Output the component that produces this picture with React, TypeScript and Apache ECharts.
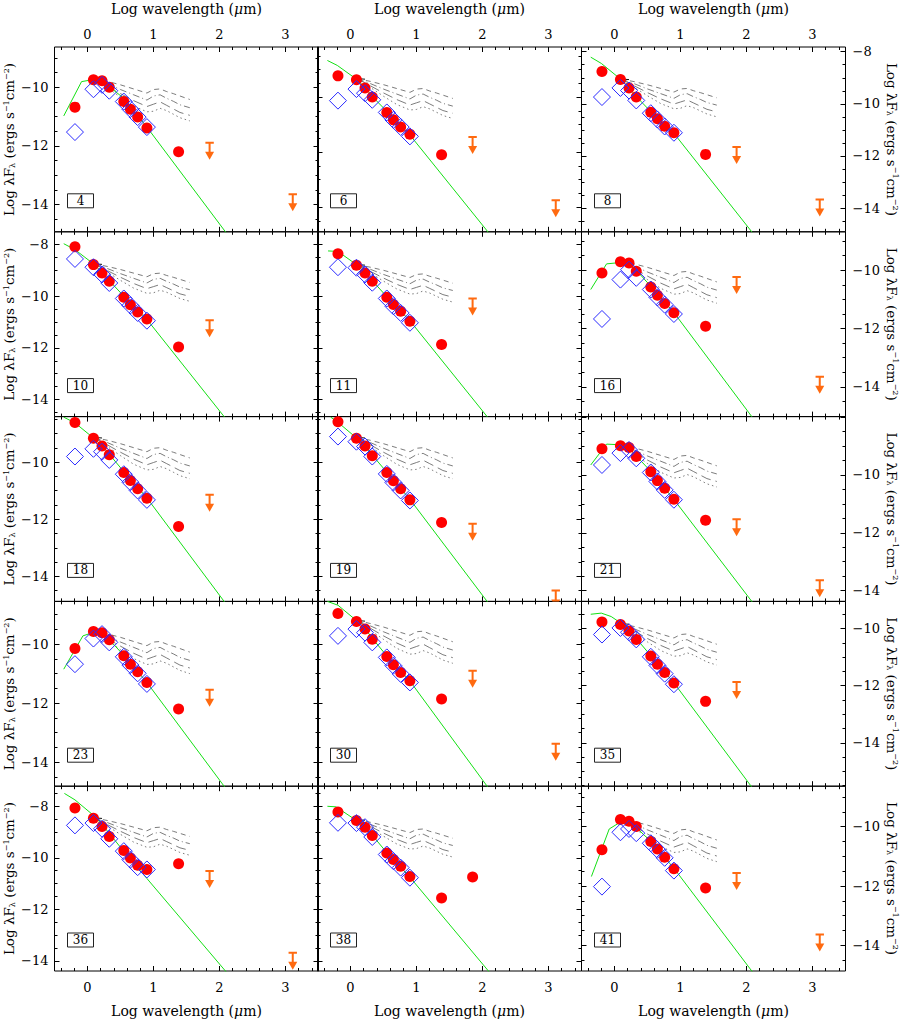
import React, { useEffect, useRef } from 'react';
import * as echarts from 'echarts';

// ---------------- data ----------------
const panelIds = ['4', '6', '8', '10', '11', '16', '18', '19', '21', '23', '30', '35', '36', '38', '41'];

// y-axis ranges (log lambda F_lambda) of each panel
const yMin = [-14.93, -14.9, -14.91, -14.66, -14.66, -15.02, -14.88, -14.88, -14.37, -14.82, -14.82, -15.52, -14.39, -14.39, -14.86];
const yMax = [-8.63, -8.18, -7.82, -7.51, -7.51, -8.68, -8.4, -8.4, -7.99, -8.55, -8.55, -9.05, -7.22, -7.22, -8.64];

// log wavelengths (micron)
const photWl = [-0.19, 0.09, 0.22, 0.33, 0.55, 0.65, 0.76, 0.9, 1.38];
const diamondWl = [-0.19, 0.09, 0.22, 0.33, 0.55, 0.65, 0.76, 0.9];
const limitWl = [1.85, 3.11];
const mips70Wl = 1.85;

// observed fluxes (red filled circles)
const redFlux = [
  [-10.68, -9.75, -9.78, -10.0, -10.49, -10.75, -11.02, -11.39, -12.2],
  [-9.23, -9.37, -9.67, -10.0, -10.56, -10.83, -11.09, -11.35, -12.1],
  [-8.76, -9.07, -9.39, -9.74, -10.32, -10.57, -10.86, -11.11, -11.94],
  [-8.09, -8.78, -9.1, -9.42, -10.04, -10.33, -10.61, -10.88, -11.97],
  [-8.36, -8.8, -9.1, -9.42, -10.04, -10.32, -10.58, -10.97, -11.87],
  [-10.09, -9.71, -9.75, -10.03, -10.57, -10.86, -11.14, -11.46, -11.92],
  [-8.61, -9.16, -9.43, -9.74, -10.36, -10.64, -10.93, -11.26, -12.25],
  [-8.58, -9.16, -9.43, -9.77, -10.36, -10.65, -10.93, -11.32, -12.11],
  [-9.1, -9.0, -9.06, -9.37, -9.89, -10.2, -10.46, -10.84, -11.57],
  [-10.15, -9.57, -9.61, -9.85, -10.39, -10.68, -10.94, -11.3, -12.2],
  [-8.96, -9.23, -9.49, -9.83, -10.42, -10.7, -10.96, -11.24, -11.86],
  [-9.77, -9.86, -10.09, -10.38, -10.96, -11.25, -11.54, -11.91, -12.55],
  [-8.07, -8.46, -8.78, -9.17, -9.71, -10.01, -10.29, -10.45, -10.23],
  [-8.22, -8.55, -8.81, -9.13, -9.81, -10.06, -10.33, -10.72, -11.56],
  [-10.78, -9.76, -9.82, -10.0, -10.5, -10.75, -11.03, -11.42, -12.07],
];

// 70 micron detection (only source 38)
const mips70Flux = [null, null, null, null, null, null, null, null, null, null, null, null, null, -10.74, null];

// blue open diamonds
const diamondFlux = [
  [-11.53, -10.07, -9.92, -10.12, -10.49, -10.75, -11.02, -11.36],
  [-10.13, -9.71, -9.86, -10.1, -10.56, -10.83, -11.09, -11.43],
  [-9.74, -9.39, -9.49, -9.87, -10.36, -10.6, -10.87, -11.11],
  [-8.56, -8.88, -9.16, -9.49, -10.09, -10.36, -10.65, -10.95],
  [-8.88, -8.9, -9.16, -9.48, -10.09, -10.39, -10.65, -11.03],
  [-11.67, -10.32, -9.98, -10.26, -10.66, -10.93, -11.18, -11.5],
  [-9.8, -9.53, -9.63, -9.92, -10.42, -10.7, -10.99, -11.32],
  [-9.1, -9.28, -9.45, -9.8, -10.41, -10.71, -10.99, -11.34],
  [-9.66, -9.25, -9.14, -9.43, -9.92, -10.23, -10.52, -10.86],
  [-10.68, -9.81, -9.66, -9.94, -10.43, -10.71, -10.99, -11.35],
  [-9.72, -9.49, -9.61, -9.94, -10.45, -10.73, -11.01, -11.3],
  [-10.21, -9.98, -10.13, -10.38, -10.99, -11.29, -11.58, -11.95],
  [-8.74, -8.65, -8.87, -9.26, -9.74, -10.07, -10.36, -10.45],
  [-8.64, -8.65, -8.81, -9.19, -9.87, -10.13, -10.38, -10.77],
  [-12.02, -10.19, -10.08, -10.22, -10.56, -10.78, -11.05, -11.48],
];

// orange upper limits at 70 um and 1.3 mm
const limitFlux = [
  [-11.89, -13.65],
  [-11.45, -13.75],
  [-11.66, -13.67],
  [-10.93, null],
  [-10.09, null],
  [-10.23, -13.65],
  [-11.14, null],
  [-12.16, -14.5],
  [-11.53, -13.64],
  [-11.55, null],
  [-10.9, -13.38],
  [-11.87, null],
  [-10.51, -13.68],
  [null, null],
  [-11.56, -13.63],
];

// green photosphere model
const greenModel = [
  [[-0.36, -10.98], [-0.09, -9.81], [0.09, -9.74], [0.22, -9.8], [0.33, -9.98], [0.55, -10.38], [0.9, -11.36], [2.3, -15.56]],
  [[-0.35, -8.67], [-0.2, -8.85], [0.09, -9.35], [0.22, -9.65], [0.33, -9.98], [0.55, -10.52], [0.9, -11.38], [2.3, -15.55]],
  [[-0.36, -8.21], [-0.2, -8.45], [0.09, -9.05], [0.22, -9.38], [0.33, -9.72], [0.55, -10.3], [0.9, -11.13], [2.08, -14.91], [2.3, -15.61]],
  [[-0.36, -7.97], [-0.19, -8.2], [0.09, -8.75], [0.22, -9.08], [0.33, -9.4], [0.55, -10.0], [0.9, -10.9], [2.07, -14.66], [2.3, -15.4]],
  [[-0.34, -8.25], [-0.19, -8.27], [0.09, -8.78], [0.22, -9.08], [0.33, -9.4], [0.55, -10.02], [0.9, -10.95], [2.07, -14.66], [2.3, -15.4]],
  [[-0.36, -10.66], [-0.12, -9.78], [0.06, -9.74], [0.22, -9.8], [0.33, -10.0], [0.55, -10.55], [0.9, -11.45], [2.08, -15.02], [2.3, -15.7]],
  [[-0.36, -8.42], [-0.19, -8.62], [0.09, -9.15], [0.22, -9.42], [0.33, -9.72], [0.55, -10.33], [0.9, -11.25], [2.07, -14.88], [2.3, -15.6]],
  [[-0.3, -8.42], [-0.19, -8.6], [0.09, -9.15], [0.22, -9.42], [0.33, -9.75], [0.55, -10.35], [0.9, -11.3], [2.07, -14.88], [2.3, -15.6]],
  [[-0.36, -9.66], [-0.12, -8.94], [0.06, -8.96], [0.22, -9.05], [0.33, -9.35], [0.55, -9.88], [0.9, -10.85], [2.08, -14.37], [2.3, -15.05]],
  [[-0.36, -10.85], [-0.07, -9.72], [0.09, -9.6], [0.22, -9.64], [0.33, -9.85], [0.55, -10.38], [0.9, -11.3], [2.07, -14.82], [2.3, -15.5]],
  [[-0.35, -8.55], [-0.19, -8.68], [0.09, -9.2], [0.22, -9.47], [0.33, -9.8], [0.55, -10.4], [0.9, -11.25], [2.07, -14.82], [2.3, -15.5]],
  [[-0.36, -9.5], [-0.2, -9.46], [-0.05, -9.58], [0.09, -9.8], [0.22, -10.05], [0.33, -10.35], [0.55, -10.95], [0.9, -11.9], [2.07, -15.52], [2.3, -16.2]],
  [[-0.35, -7.5], [-0.19, -7.75], [0.09, -8.35], [0.22, -8.7], [0.33, -9.05], [0.55, -9.75], [0.9, -10.8], [2.09, -14.39], [2.3, -15.05]],
  [[-0.35, -8.0], [-0.22, -8.02], [0.09, -8.55], [0.22, -8.8], [0.33, -9.12], [0.55, -9.8], [0.9, -10.75], [2.09, -14.39], [2.3, -15.05]],
  [[-0.35, -11.68], [-0.08, -10.08], [0.08, -9.86], [0.22, -9.88], [0.33, -10.03], [0.55, -10.5], [0.9, -11.4], [2.08, -14.86], [2.3, -15.5]],
];

// black disk-model fan: common shape (offsets from J-band anchor), one anchor per source
const fanWl = [0.1, 0.3, 0.5, 0.7, 0.9, 1.0, 1.1, 1.2, 1.3, 1.4, 1.55];
const fanShapes = [
  [0, -0.1, -0.22, -0.36, -0.5, -0.38, -0.36, -0.45, -0.52, -0.6, -0.72],
  [0, -0.18, -0.38, -0.56, -0.74, -0.6, -0.56, -0.68, -0.78, -0.9, -1.0],
  [0, -0.26, -0.52, -0.76, -0.96, -0.88, -0.8, -0.92, -1.04, -1.16, -1.26],
  [0, -0.32, -0.64, -0.94, -1.14, -1.12, -1.02, -1.1, -1.22, -1.34, -1.45],
];
const fanAnchor = [-9.7, -9.33, -9.05, -8.75, -8.78, -9.68, -9.13, -9.13, -8.97, -9.55, -9.2, -9.83, -8.45, -8.52, -9.73];

// tick values
const xMajorTicks = [0, 1, 2, 3];
const xMinorTicks = [-0.4, -0.2, 0.2, 0.4, 0.6, 0.8, 1.2, 1.4, 1.6, 1.8, 2.2, 2.4, 2.6, 2.8, 3.2, 3.4];
const yMajorTicks = [-16, -14, -12, -10, -8, -6];
const yMinorTicks = [-15.5, -15, -14.5, -13.5, -13, -12.5, -11.5, -11, -10.5, -9.5, -9, -8.5, -7.5, -7, -6.5];

// ---------------- layout / style ----------------
const COL_LEFT = [54.5, 317.5, 581.5];
const PANEL_W = 264;
const ROW_TOP = 47;
const PANEL_H = 184.8;
const FONT = "'DejaVu Serif', 'Liberation Serif', serif";
const RED = '#ff0000';
const BLUE = '#2a2aff';
const GREEN = '#14e014';
const ORANGE = '#ff6a10';
const FAN_COLOR = '#5a5a5a';
const FAN_DASH: any[] = [[5, 4], [7, 3, 1, 3], [10, 5], [1.5, 3]];

const fmtNum = (v: number) => (v < 0 ? '\u2212' + Math.abs(v) : String(v));

function buildOption() {
  const grids: any[] = [];
  const xAxes: any[] = [];
  const yAxes: any[] = [];
  const series: any[] = [];
  const graphics: any[] = [];

  panelIds.forEach((pid, i) => {
    const r = Math.floor(i / 3);
    const c = i % 3;
    const left = COL_LEFT[c];
    const top = ROW_TOP + r * PANEL_H;
    grids.push({
      left, top, width: PANEL_W, height: PANEL_H,
      show: true, borderColor: '#000', borderWidth: 1, backgroundColor: 'transparent',
      containLabel: false, outerBoundsMode: 'none',
    });

    const mkX = (pos: string, ticks: number[], len: number, showLabel: boolean, margin: number) => ({
      type: 'value', gridIndex: i, position: pos, min: -0.5, max: 3.5,
      axisLine: { show: false, onZero: false },
      axisTick: { show: true, inside: true, length: len, customValues: ticks, lineStyle: { color: '#000', width: 1 } },
      axisLabel: { show: showLabel, customValues: xMajorTicks, margin, fontSize: 13, fontFamily: FONT, color: '#000', formatter: fmtNum },
      splitLine: { show: false }, minorTick: { show: false },
    });
    xAxes.push(mkX('bottom', xMajorTicks, 5, r === 4, 10));
    xAxes.push(mkX('bottom', xMinorTicks, 3, false, 10));
    xAxes.push(mkX('top', xMajorTicks, 5, r === 0, 6));
    xAxes.push(mkX('top', xMinorTicks, 3, false, 6));

    const lo = yMin[i];
    const hi = yMax[i];
    const majIn = yMajorTicks.filter((v) => v >= lo && v <= hi);
    const minIn = yMinorTicks.filter((v) => v >= lo && v <= hi);
    const labIn = yMajorTicks.filter((v) => v > lo + 0.05 && v < hi - 0.05);
    const mkY = (pos: string, ticks: number[], len: number, showLabel: boolean, margin: number) => ({
      type: 'value', gridIndex: i, position: pos, min: lo, max: hi,
      axisLine: { show: false, onZero: false },
      axisTick: { show: true, inside: true, length: len, customValues: ticks, lineStyle: { color: '#000', width: 1 } },
      axisLabel: { show: showLabel, customValues: labIn, margin, fontSize: 13, fontFamily: FONT, color: '#000', formatter: fmtNum },
      splitLine: { show: false }, minorTick: { show: false },
    });
    yAxes.push(mkY('left', majIn, 5, c === 0, 6));
    yAxes.push(mkY('left', minIn, 3, false, 6));
    yAxes.push(mkY('right', majIn, 5, c === 2, 7));
    yAxes.push(mkY('right', minIn, 3, false, 7));

    const xi = 4 * i;
    const yi = 4 * i;

    // disk-model fan
    fanShapes.forEach((shape, k) => {
      series.push({
        type: 'line', xAxisIndex: xi, yAxisIndex: yi, silent: true, showSymbol: false, clip: true, z: 2,
        data: fanWl.map((w, j) => [w, fanAnchor[i] + shape[j]]),
        lineStyle: { color: FAN_COLOR, width: 0.8, type: FAN_DASH[k] },
      });
    });
    // short solid start of the fan at J
    series.push({
      type: 'line', xAxisIndex: xi, yAxisIndex: yi, silent: true, showSymbol: false, clip: true, z: 2,
      data: [[fanWl[0], fanAnchor[i]], [fanWl[0] + 0.12, fanAnchor[i] - 0.02]],
      lineStyle: { color: '#111', width: 1 },
    });

    // photosphere
    series.push({
      type: 'line', xAxisIndex: xi, yAxisIndex: yi, silent: true, showSymbol: false, clip: true, z: 3,
      data: greenModel[i],
      lineStyle: { color: GREEN, width: 1 },
    });

    // red observed points
    const reds: any[] = photWl.map((w, j) => [w, redFlux[i][j]]);
    if (mips70Flux[i] !== null) reds.push([mips70Wl, mips70Flux[i]]);
    series.push({
      type: 'scatter', xAxisIndex: xi, yAxisIndex: yi, silent: true, z: 4,
      symbol: 'circle', symbolSize: 11,
      itemStyle: { color: RED, borderWidth: 0, opacity: 1 },
      data: reds,
    });

    // blue diamonds
    series.push({
      type: 'scatter', xAxisIndex: xi, yAxisIndex: yi, silent: true, z: 5,
      symbol: 'diamond', symbolSize: 17,
      itemStyle: { color: 'rgba(0,0,0,0)', borderColor: BLUE, borderWidth: 1, opacity: 1 },
      data: diamondWl.map((w, j) => [w, diamondFlux[i][j]]),
    });

    // orange upper limits
    const lims: any[] = [];
    limitWl.forEach((w, j) => {
      const v = limitFlux[i][j];
      if (v !== null) lims.push([w, v]);
    });
    if (lims.length) {
      series.push({
        type: 'custom', xAxisIndex: xi, yAxisIndex: yi, silent: true, clip: true, z: 6,
        data: lims,
        renderItem: (params: any, api: any) => {
          const p = api.coord([api.value(0), api.value(1)]);
          return {
            type: 'group',
            children: [
              { type: 'line', shape: { x1: p[0] - 4.2, y1: p[1], x2: p[0] + 4.2, y2: p[1] }, style: { stroke: ORANGE, lineWidth: 2 } },
              { type: 'line', shape: { x1: p[0], y1: p[1], x2: p[0], y2: p[1] + 10 }, style: { stroke: ORANGE, lineWidth: 2 } },
              { type: 'polygon', shape: { points: [[p[0] - 4.5, p[1] + 9], [p[0] + 4.5, p[1] + 9], [p[0], p[1] + 17]] }, style: { fill: ORANGE } },
            ],
          };
        },
      });
    }

    // panel number box
    graphics.push({
      type: 'rect', z: 100, silent: true,
      shape: { x: left + 13, y: top + PANEL_H - 38, width: 26, height: 14 },
      style: { fill: '#fff', stroke: '#222', lineWidth: 1 },
    });
    graphics.push({
      type: 'text', z: 101, silent: true,
      x: left + 26, y: top + PANEL_H - 31,
      style: { text: pid, font: `12px ${FONT}`, fill: '#000', align: 'center', verticalAlign: 'middle' },
    });
  });

  // axis titles
  const xTitle = '{n|Log wavelength (}{i|\u03bc}{n|m)}';
  const xRich = {
    n: { fontSize: 14, fontFamily: FONT, fill: '#000', color: '#000' },
    i: { fontSize: 14, fontFamily: FONT, fontStyle: 'italic', fill: '#000', color: '#000' },
  };
  for (let c = 0; c < 3; c++) {
    const cx = COL_LEFT[c] + PANEL_W / 2;
    [9, 1011].forEach((yy) => {
      graphics.push({
        type: 'text', silent: true, x: cx, y: yy,
        style: { text: xTitle, rich: xRich, align: 'center', verticalAlign: 'middle', fill: '#000' },
      });
    });
  }
  const yTitle = '{n|Log \u03bbF}{sub|\u03bb}{n| (ergs s}{sup|\u22121}{n|cm}{sup|\u22122}{n|)}';
  const yRich = {
    n: { fontSize: 13.5, fontFamily: FONT, fill: '#000', lineHeight: 14, verticalAlign: 'middle' },
    sub: { fontSize: 8, fontFamily: FONT, fill: '#000', lineHeight: 14, verticalAlign: 'bottom' },
    sup: { fontSize: 8, fontFamily: FONT, fill: '#000', lineHeight: 14, verticalAlign: 'top' },
  };
  for (let r = 0; r < 5; r++) {
    const cy = ROW_TOP + r * PANEL_H + PANEL_H / 2;
    graphics.push({
      type: 'text', silent: true, x: 9, y: cy, rotation: Math.PI / 2,
      style: { text: yTitle, rich: yRich, align: 'center', verticalAlign: 'middle', fill: '#000' },
    });
    graphics.push({
      type: 'text', silent: true, x: 892, y: cy, rotation: -Math.PI / 2,
      style: { text: yTitle, rich: yRich, align: 'center', verticalAlign: 'middle', fill: '#000' },
    });
  }

  return {
    animation: false,
    backgroundColor: '#fff',
    textStyle: { fontFamily: FONT },
    grid: grids,
    xAxis: xAxes,
    yAxis: yAxes,
    series,
    graphic: { elements: graphics },
  };
}

export default function App() {
  const ref = useRef<HTMLDivElement>(null);
  useEffect(() => {
    if (!ref.current) return;
    const chart = echarts.init(ref.current, null, { renderer: 'svg' });
    chart.setOption(buildOption() as any);
    return () => chart.dispose();
  }, []);
  return (
    <div
      ref={ref}
      style={{ position: 'fixed', left: 0, top: 0, width: 900, height: 1020, background: '#fff' }}
    />
  );
}
